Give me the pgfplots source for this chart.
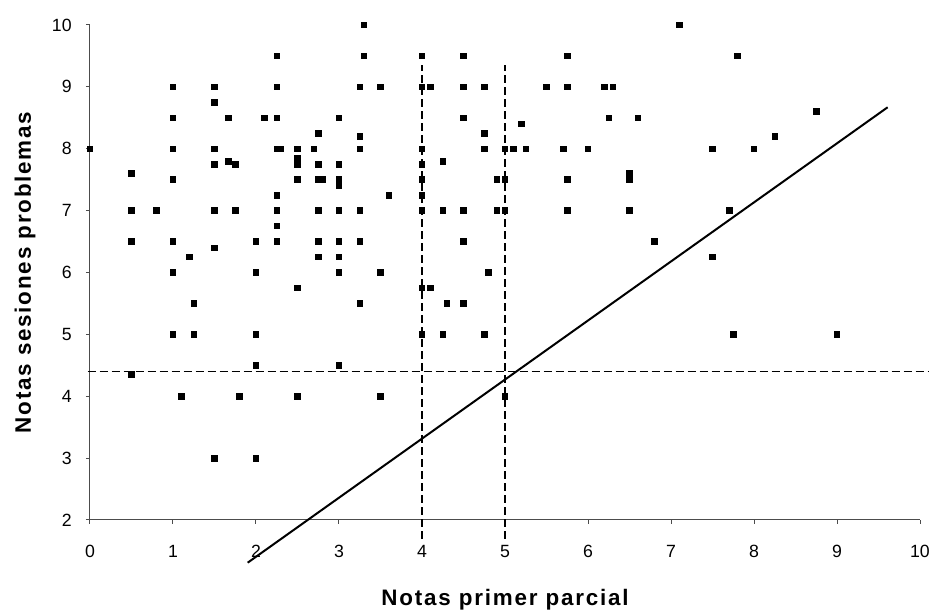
\documentclass[border=0pt]{standalone}
\usepackage{fontspec}
\setmainfont{Liberation Sans}
\usepackage{pgfplots}
\pgfplotsset{compat=1.18}
\usepackage{pgfplotstable}

% notas: primer parcial (x) frente a sesiones de problemas (y)
\pgfplotstableread{
x y
0 8
0.5 7.6
0.5 7
0.5 6.5
0.5 4.35
0.8 7
1 9
1 8.5
1 8
1 7.5
1 6.5
1 6
1 5
1.1 4
1.2 6.25
1.25 5.5
1.25 5
1.5 9
1.5 8.75
1.5 8
1.5 7.75
1.5 7
1.5 6.4
1.5 3
1.67 8.5
1.67 7.8
1.75 7.75
1.75 7
1.8 4
2 6.5
2 6
2 5
2 4.5
2 3
2.1 8.5
2.25 9.5
2.25 9
2.25 8.5
2.25 8
2.3 8
2.25 7.25
2.25 7
2.25 6.75
2.25 6.5
2.5 8
2.5 7.85
2.5 7.75
2.5 7.5
2.5 5.75
2.5 4
2.7 8
2.75 8.25
2.75 7.75
2.75 7.5
2.8 7.5
2.75 7
2.75 6.5
2.75 6.25
3 8.5
3 7.75
3 7.5
3 7.4
3 7
3 6.5
3 6.25
3 6
3 4.5
3.3 10
3.3 9.5
3.25 9
3.25 8.2
3.25 8
3.25 7
3.25 6.5
3.25 5.5
3.5 9
3.5 6
3.5 4
3.6 7.25
4 9.5
4 9
4.1 9
4 8
4 7.75
4 7.5
4 7.25
4 7
4 5.75
4.1 5.75
4 5
4.25 7.8
4.25 7
4.3 5.5
4.25 5
4.5 9.5
4.5 9
4.5 8.5
4.5 7
4.5 6.5
4.5 5.5
4.75 9
4.75 8.25
4.75 8
4.8 6
4.75 5
4.9 7.5
4.9 7
5 8
5 7.5
5 7
5 4
5.1 8
5.2 8.4
5.25 8
5.5 9
5.7 8
5.75 9.5
5.75 9
5.75 7.5
5.75 7
6 8
6.2 9
6.3 9
6.25 8.5
6.5 7.6
6.5 7.5
6.5 7
6.6 8.5
6.8 6.5
7.1 10
7.5 8
7.5 6.25
7.7 7
7.75 5
7.8 9.5
8 8
8.25 8.2
8.75 8.6
9 5
}\notas

\begin{document}
\begin{tikzpicture}
\begin{axis}[
    name=ax,
    width=415pt, height=247.5pt, scale only axis,
    xmin=0, xmax=10, ymin=2, ymax=10,
    xtick={0,1,...,10}, ytick={2,3,...,10},
    axis x line*=bottom, axis y line*=left,
    axis line style={-, black!70, line width=0.5pt},
    tick style={black!70, line width=0.5pt},
    tick align=outside, major tick length=2pt,
    clip=false,
    /pgf/number format/assume math mode=true,
    ticklabel style={font=\fontsize{8.85}{10}\selectfont},
    xticklabel style={anchor=base, inner sep=0pt, yshift=-17pt},
    yticklabel style={anchor=east, inner sep=0pt, xshift=-7pt},
    xlabel={Notas primer parcial},
    ylabel={Notas sesiones problemas},
    label style={font=\fontsize{11.2}{13}\selectfont\bfseries\addfontfeature{LetterSpace=8}},
    xlabel style={at={(axis description cs:0.5,0)}, anchor=base, inner sep=0pt, yshift=-43pt},
    ylabel style={at={(axis description cs:0,0.5)}, anchor=base, inner sep=0pt, yshift=29.5pt},
]
\addplot[only marks, mark=square*, mark size=1.4pt, black] table {\notas};
\addplot[black, line width=0.7pt, dash pattern=on 4pt off 2pt] coordinates {(-0.03,4.4) (10.1,4.4)};
\addplot[black, line width=0.7pt, dash pattern=on 4pt off 2pt] coordinates {(4,1.7) (4,9.35)};
\addplot[black, line width=0.7pt, dash pattern=on 4pt off 2pt] coordinates {(5,1.7) (5,9.35)};
\addplot[black, line width=1pt] coordinates {(1.9,1.31) (9.61,8.67)};
\end{axis}
\path[use as bounding box] ([xshift=-45pt,yshift=-44.5pt]ax.south west) rectangle ([xshift=6.5pt,yshift=12.5pt]ax.north east);
\end{tikzpicture}
\end{document}
